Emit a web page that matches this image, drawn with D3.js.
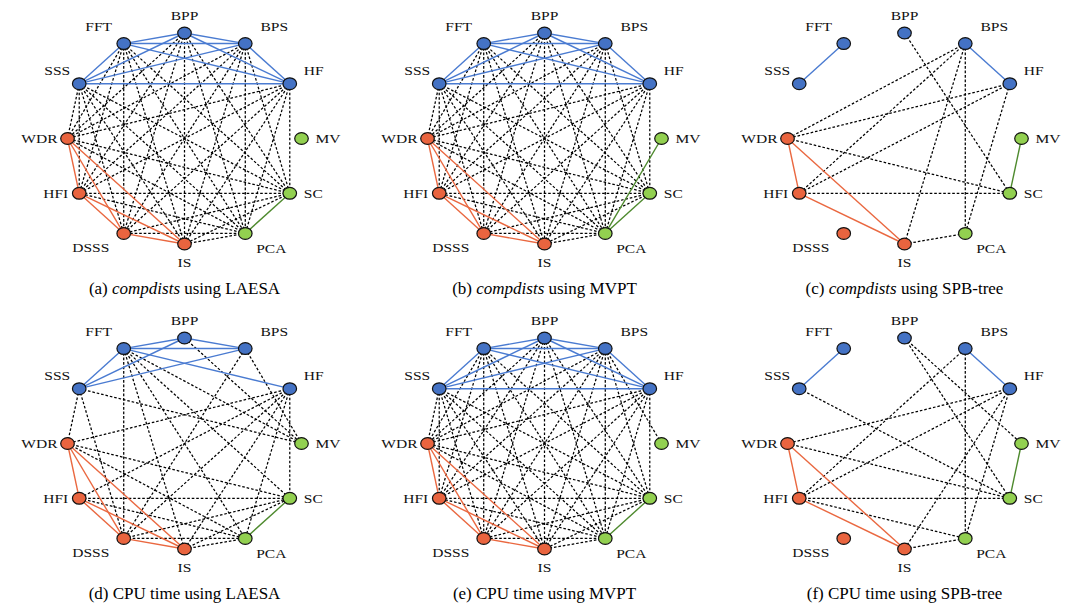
<!DOCTYPE html>
<html>
<head>
<meta charset="utf-8">
<script src="https://cdn.jsdelivr.net/npm/d3@7"></script>
<style>
  body { margin: 0; background: #fff; }
  svg { display: block; }
</style>
</head>
<body>
<svg id="chart" width="1067" height="610"></svg>
<script>
// Methods, in clockwise order starting at the top of each ring
const methods = ["BPP", "BPS", "HF", "MV", "SC", "PCA", "IS", "DSSS", "HFI", "WDR", "SSS", "FFT"];

// Method families (node colour)
const blueFamily = ["BPP", "BPS", "HF", "SSS", "FFT"];
const greenFamily = ["MV", "SC", "PCA"];
const redFamily = ["IS", "DSSS", "HFI", "WDR"];

// Sub-figure captions
const captionTags = ["(a)", "(b)", "(c)", "(d)", "(e)", "(f)"];
const captionMetric = ["compdists", "compdists", "compdists", "CPU time", "CPU time", "CPU time"];
const captionIndex = ["LAESA", "MVPT", "SPB-tree", "LAESA", "MVPT", "SPB-tree"];

// Pairs of methods linked in each sub-figure
const edgesA = [
  "BPP-BPS", "BPP-HF", "BPP-SSS", "BPP-FFT", "BPS-HF", "BPS-SSS", "BPS-FFT", "HF-SSS", "HF-FFT", "SSS-FFT",
  "IS-DSSS", "IS-HFI", "IS-WDR", "DSSS-HFI", "DSSS-WDR", "HFI-WDR",
  "SC-PCA",
  "BPP-SC", "BPP-PCA", "BPP-IS", "BPP-DSSS", "BPP-HFI", "BPP-WDR",
  "BPS-SC", "BPS-PCA", "BPS-IS", "BPS-DSSS", "BPS-HFI", "BPS-WDR",
  "HF-SC", "HF-PCA", "HF-IS", "HF-DSSS", "HF-HFI", "HF-WDR",
  "SSS-SC", "SSS-PCA", "SSS-IS", "SSS-DSSS", "SSS-HFI", "SSS-WDR",
  "FFT-SC", "FFT-PCA", "FFT-IS", "FFT-DSSS", "FFT-HFI", "FFT-WDR",
  "SC-IS", "SC-DSSS", "SC-HFI", "SC-WDR",
  "PCA-IS", "PCA-DSSS", "PCA-HFI", "PCA-WDR"
];
const edgesB = [
  "BPP-BPS", "BPP-HF", "BPP-SSS", "BPP-FFT", "BPS-HF", "BPS-SSS", "BPS-FFT", "HF-SSS", "HF-FFT", "SSS-FFT",
  "IS-DSSS", "IS-HFI", "IS-WDR", "DSSS-HFI", "DSSS-WDR", "HFI-WDR",
  "SC-PCA", "MV-PCA",
  "BPP-SC", "BPP-PCA", "BPP-IS", "BPP-DSSS", "BPP-HFI", "BPP-WDR",
  "BPS-SC", "BPS-PCA", "BPS-IS", "BPS-DSSS", "BPS-HFI", "BPS-WDR",
  "HF-SC", "HF-PCA", "HF-IS", "HF-DSSS", "HF-HFI", "HF-WDR",
  "SSS-SC", "SSS-PCA", "SSS-IS", "SSS-DSSS", "SSS-HFI", "SSS-WDR",
  "FFT-SC", "FFT-PCA", "FFT-IS", "FFT-DSSS", "FFT-HFI", "FFT-WDR",
  "SC-IS", "SC-DSSS", "SC-HFI", "SC-WDR",
  "PCA-IS", "PCA-DSSS", "PCA-HFI", "PCA-WDR"
];
const edgesC = [
  "SSS-FFT", "BPS-HF",
  "WDR-HFI", "WDR-IS", "HFI-IS",
  "MV-SC",
  "BPP-SC", "BPS-WDR", "BPS-HFI", "BPS-IS", "BPS-PCA",
  "HF-WDR", "HF-HFI", "HF-PCA", "WDR-SC", "HFI-SC", "IS-PCA"
];
const edgesD = [
  "BPP-BPS", "BPP-SSS", "BPP-FFT", "BPS-SSS", "BPS-FFT", "HF-FFT", "SSS-FFT",
  "IS-DSSS", "IS-HFI", "IS-WDR", "DSSS-HFI", "DSSS-WDR", "HFI-WDR",
  "SC-PCA",
  "BPP-MV", "BPS-MV", "BPS-DSSS",
  "FFT-DSSS", "FFT-IS", "FFT-PCA", "FFT-SC", "FFT-MV",
  "HF-WDR", "HF-HFI", "HF-DSSS", "HF-IS", "HF-PCA", "HF-SC",
  "SSS-WDR", "SSS-DSSS", "SSS-MV",
  "WDR-SC", "WDR-PCA", "HFI-SC", "HFI-PCA",
  "DSSS-SC", "DSSS-PCA", "IS-PCA", "IS-SC"
];
const edgesE = [
  "BPP-BPS", "BPP-HF", "BPP-SSS", "BPP-FFT", "BPS-HF", "BPS-SSS", "BPS-FFT", "HF-SSS", "HF-FFT", "SSS-FFT",
  "IS-DSSS", "IS-HFI", "IS-WDR", "DSSS-HFI", "DSSS-WDR", "HFI-WDR",
  "SC-PCA",
  "BPS-MV",
  "BPP-SC", "BPP-PCA", "BPP-IS", "BPP-DSSS", "BPP-HFI", "BPP-WDR",
  "BPS-SC", "BPS-PCA", "BPS-IS", "BPS-DSSS", "BPS-HFI", "BPS-WDR",
  "HF-SC", "HF-PCA", "HF-IS", "HF-DSSS", "HF-HFI", "HF-WDR",
  "SSS-SC", "SSS-PCA", "SSS-IS", "SSS-DSSS", "SSS-HFI", "SSS-WDR",
  "FFT-SC", "FFT-PCA", "FFT-IS", "FFT-DSSS", "FFT-HFI", "FFT-WDR",
  "SC-IS", "SC-DSSS", "SC-HFI", "SC-WDR",
  "PCA-IS", "PCA-DSSS", "PCA-HFI", "PCA-WDR"
];
const edgesF = [
  "SSS-FFT", "BPS-HF",
  "WDR-HFI", "WDR-IS", "HFI-IS",
  "MV-SC",
  "BPP-MV", "BPP-SC", "SSS-SC", "BPS-HFI", "BPS-PCA",
  "HF-WDR", "HF-HFI", "HF-PCA", "HF-IS",
  "WDR-SC", "HFI-SC", "HFI-PCA", "IS-PCA"
];
const panelEdges = [edgesA, edgesB, edgesC, edgesD, edgesE, edgesF];

// ---- styling ----
const familyColor = { blue: "#4472c4", green: "#92d050", red: "#e9643f" };
const linkColor = { blue: "#4a7bd1", green: "#4e8a2e", red: "#ea6840" };
const familyOf = m => blueFamily.includes(m) ? "blue" : greenFamily.includes(m) ? "green" : "red";

const svg = d3.select("#chart");

// panel centres on a 3 x 2 grid
const colX = d3.scalePoint().domain([0, 1, 2]).range([184.5, 904.5]);
const rowY = d3.scalePoint().domain([0, 1]).range([138.5, 443.5]);

// each ring is drawn slightly widened horizontally
const stretch = 1.15;

// ring geometry: unit ring mapped to (unstretched) offsets
const ringX = d3.scaleLinear().domain([-1, 1]).range([-117 / stretch, 117 / stretch]);
const ringY = d3.scaleLinear().domain([-1, 1]).range([-105.5, 105.5]);
const angle = d3.scalePoint().domain(methods).range([0, 2 * Math.PI * 11 / 12]);
function unitPos(m) {
  const a = angle(m);
  const r = 1 + 0.045 * Math.abs(Math.sin(2 * a));
  const [ux, uy] = d3.pointRadial(a, r);
  return [ringX(ux), ringY(uy)];
}

// label placement around each node (screen pixels): [dx, dy, anchor]
const labelPlace = {
  BPP: [0, -18, "middle"], BPS: [29, -17, "middle"], HF: [14, -13, "start"],
  MV: [14, 0, "start"], SC: [14, 0, "start"], PCA: [26, 15, "middle"],
  IS: [0, 18, "middle"], DSSS: [-33, 13.5, "middle"], HFI: [-11, 0, "end"],
  WDR: [-10, 0, "end"], SSS: [-9, -13, "end"], FFT: [-25, -17, "middle"]
};

panelEdges.forEach((edges, p) => {
  const cx = colX(p % 3), cy = rowY(Math.floor(p / 3));
  const g = svg.append("g").attr("transform", `translate(${cx},${cy}) scale(${stretch},1)`);
  const pos = {};
  methods.forEach(m => { pos[m] = unitPos(m); });

  const links = edges.map(e => {
    const [s, t] = e.split("-");
    const same = familyOf(s) === familyOf(t);
    return { s, t, same, fam: familyOf(s) };
  });

  // dotted links between families first, solid family links on top
  g.append("g").selectAll("line")
    .data(links.filter(d => !d.same))
    .join("line")
    .attr("x1", d => pos[d.s][0]).attr("y1", d => pos[d.s][1])
    .attr("x2", d => pos[d.t][0]).attr("y2", d => pos[d.t][1])
    .attr("stroke", "#000")
    .attr("stroke-width", 1.25)
    .attr("stroke-dasharray", "2.6,1.9")
    .attr("vector-effect", "non-scaling-stroke");

  g.append("g").selectAll("line")
    .data(links.filter(d => d.same))
    .join("line")
    .attr("x1", d => pos[d.s][0]).attr("y1", d => pos[d.s][1])
    .attr("x2", d => pos[d.t][0]).attr("y2", d => pos[d.t][1])
    .attr("stroke", d => linkColor[d.fam])
    .attr("stroke-width", 1.4)
    .attr("vector-effect", "non-scaling-stroke");

  g.append("g").selectAll("circle")
    .data(methods)
    .join("circle")
    .attr("cx", m => pos[m][0]).attr("cy", m => pos[m][1])
    .attr("r", 5.9)
    .attr("fill", m => familyColor[familyOf(m)])
    .attr("stroke", "#111")
    .attr("stroke-width", 1.2)
    .attr("vector-effect", "non-scaling-stroke");

  g.append("g").selectAll("text")
    .data(methods)
    .join("text")
    .attr("x", m => pos[m][0] + labelPlace[m][0] / stretch)
    .attr("y", m => pos[m][1] + labelPlace[m][1])
    .attr("text-anchor", m => labelPlace[m][2])
    .attr("dominant-baseline", "central")
    .attr("font-family", "'Liberation Serif', 'DejaVu Serif', serif")
    .attr("font-size", 13.5)
    .attr("fill", "#111")
    .text(m => m);

  // caption
  const cap = svg.append("text")
    .attr("x", cx)
    .attr("y", cy + 155)
    .attr("text-anchor", "middle")
    .attr("font-family", "'Liberation Serif', 'DejaVu Serif', serif")
    .attr("font-size", 17)
    .attr("fill", "#000");
  cap.append("tspan").text(captionTags[p] + " ");
  if (captionMetric[p] === "compdists") {
    cap.append("tspan").attr("font-style", "italic").text(captionMetric[p]);
  } else {
    cap.append("tspan").text(captionMetric[p]);
  }
  cap.append("tspan").text(" using " + captionIndex[p]);
});
</script>
</body>
</html>
